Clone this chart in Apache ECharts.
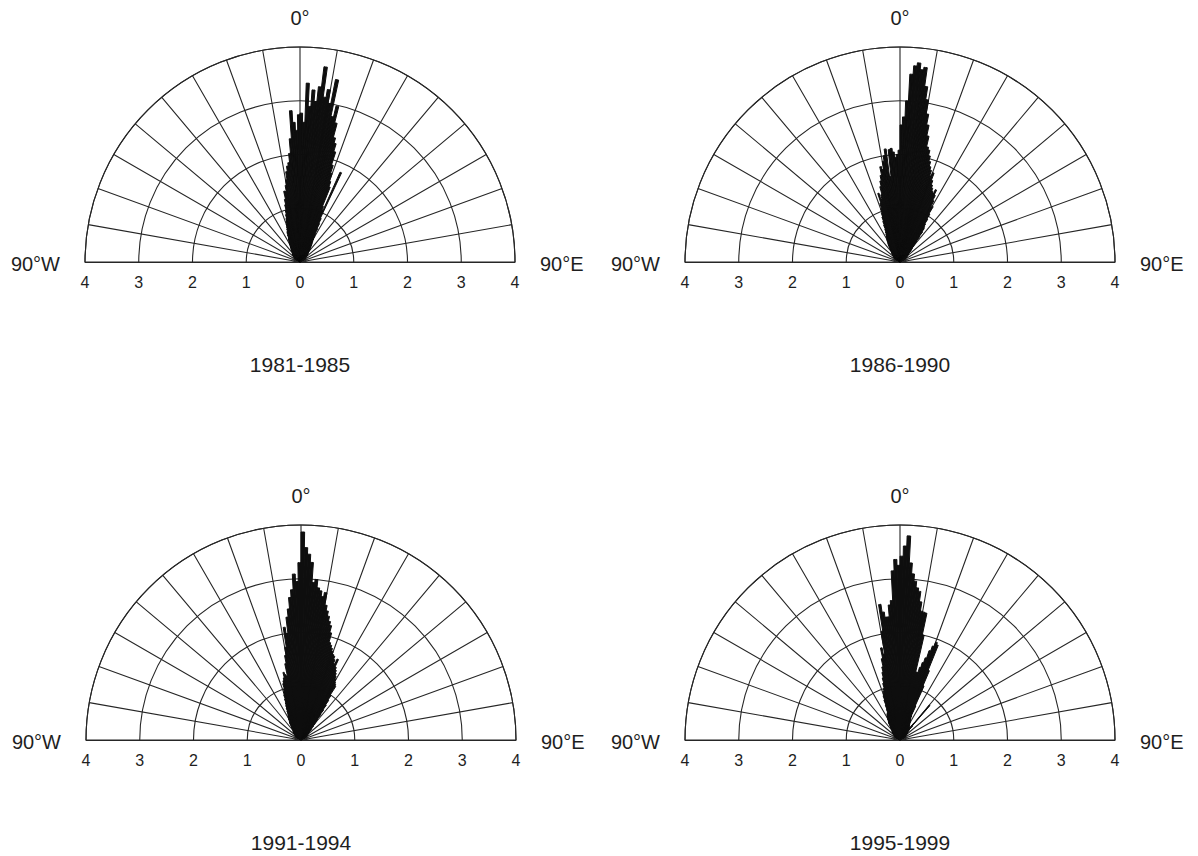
<!DOCTYPE html>
<html>
<head>
<meta charset="utf-8">
<script src="https://cdn.jsdelivr.net/npm/echarts@6/dist/echarts.min.js"></script>
<style>
  html, body { margin: 0; padding: 0; background: #ffffff; }
  #chart { width: 1198px; height: 856px; }
</style>
</head>
<body>
<div id="chart"></div>
<script>
// Half-rose diagrams of direction frequency, one panel per period.
const periods = ['1981-1985', '1986-1990', '1991-1994', '1995-1999'];

// Each list holds one value per 1° direction bin, starting at firstBin (bin left edge, degrees).
const firstBin = -60;
const rose1981 = [
  0.10, 0.10, 0.10, 0.10, 0.12, 0.12, 0.12, 0.15, 0.15, 0.15,
  0.15, 0.18, 0.18, 0.18, 0.20, 0.20, 0.20, 0.20, 0.22, 0.22,
  0.22, 0.22, 0.25, 0.25, 0.28, 0.30, 0.30, 0.33, 0.35, 0.38,
  0.40, 0.42, 0.45, 0.48, 0.50, 0.55, 0.60, 0.62, 0.66, 0.70,
  0.75, 0.80, 0.85, 0.92, 1.00, 1.10, 1.20, 1.35, 1.34, 1.45,
  1.55, 1.70, 1.80, 1.86, 2.03, 2.30, 2.82, 2.60, 2.45, 2.74,
  2.77, 2.60, 3.33, 2.90, 3.21, 3.00, 3.28, 3.66, 3.10, 3.25,
  3.00, 3.46, 2.77, 2.98, 2.67, 2.40, 2.30, 2.15, 1.90, 1.75,
  1.60, 1.50, 1.12, 1.05, 1.83, 0.90, 0.80, 0.70, 0.60, 0.55,
  0.50, 0.45, 0.42, 0.40, 0.38, 0.35, 0.33, 0.30, 0.30, 0.28,
  0.25, 0.25, 0.22, 0.22, 0.20, 0.20, 0.20, 0.18, 0.18, 0.18,
  0.15, 0.15, 0.15, 0.12, 0.12, 0.12, 0.10, 0.10, 0.10, 0.10
];
const rose1986 = [
  0.10, 0.10, 0.10, 0.12, 0.12, 0.12, 0.15, 0.15, 0.15, 0.15,
  0.18, 0.18, 0.18, 0.20, 0.20, 0.20, 0.22, 0.22, 0.22, 0.25,
  0.25, 0.28, 0.30, 0.32, 0.35, 0.38, 0.40, 0.42, 0.45, 0.48,
  0.50, 0.52, 0.55, 0.58, 0.62, 0.67, 0.75, 0.82, 0.90, 0.97,
  1.05, 1.15, 1.34, 1.22, 1.30, 1.45, 1.55, 1.65, 1.81, 1.75,
  1.90, 2.00, 2.12, 1.60, 2.10, 2.12, 2.05, 1.95, 2.00, 2.08,
  2.55, 2.70, 3.00, 3.50, 3.66, 3.72, 3.60, 3.65, 3.30, 3.06,
  2.80, 2.60, 2.40, 2.20, 2.15, 2.05, 1.95, 1.86, 1.80, 1.70,
  1.77, 1.63, 1.55, 1.50, 1.45, 1.42, 1.50, 1.40, 1.30, 1.18,
  1.20, 1.05, 0.95, 0.85, 0.80, 0.77, 0.70, 0.60, 0.50, 0.45,
  0.40, 0.35, 0.32, 0.30, 0.28, 0.25, 0.22, 0.22, 0.20, 0.20,
  0.18, 0.18, 0.15, 0.15, 0.15, 0.12, 0.12, 0.10, 0.10, 0.10
];
const rose1991 = [
  0.10, 0.10, 0.10, 0.10, 0.12, 0.12, 0.12, 0.15, 0.15, 0.15,
  0.15, 0.18, 0.18, 0.18, 0.20, 0.20, 0.20, 0.22, 0.22, 0.22,
  0.25, 0.25, 0.28, 0.30, 0.32, 0.35, 0.38, 0.40, 0.42, 0.45,
  0.48, 0.50, 0.52, 0.55, 0.60, 0.65, 0.70, 0.75, 0.82, 0.90,
  0.95, 1.00, 1.10, 1.15, 1.20, 1.30, 1.25, 1.22, 1.45, 1.60,
  1.75, 2.12, 2.00, 2.30, 2.45, 2.66, 2.80, 3.09, 2.95, 3.30,
  3.87, 3.58, 3.46, 3.31, 2.94, 3.00, 2.85, 2.80, 2.70, 2.78,
  2.55, 2.45, 2.36, 2.27, 2.20, 2.07, 1.89, 1.85, 1.80, 1.75,
  1.70, 1.68, 1.62, 1.55, 1.65, 1.50, 1.45, 1.40, 1.35, 1.30,
  1.25, 1.22, 1.19, 1.00, 0.90, 0.80, 0.70, 0.60, 0.50, 0.45,
  0.40, 0.35, 0.30, 0.28, 0.25, 0.22, 0.22, 0.20, 0.20, 0.18,
  0.18, 0.15, 0.15, 0.15, 0.12, 0.12, 0.12, 0.10, 0.10, 0.10
];
const rose1995 = [
  0.10, 0.10, 0.10, 0.10, 0.12, 0.12, 0.12, 0.15, 0.15, 0.15,
  0.15, 0.18, 0.18, 0.18, 0.20, 0.20, 0.20, 0.22, 0.22, 0.22,
  0.25, 0.25, 0.28, 0.30, 0.32, 0.35, 0.38, 0.40, 0.42, 0.45,
  0.48, 0.50, 0.52, 0.54, 0.55, 0.56, 0.62, 0.70, 0.80, 0.88,
  0.92, 0.96, 1.00, 1.10, 1.20, 1.30, 1.40, 1.55, 1.75, 1.62,
  2.05, 2.55, 2.40, 2.30, 2.30, 2.52, 2.60, 3.15, 3.36, 3.25,
  3.42, 3.61, 3.80, 3.30, 3.10, 2.97, 2.85, 2.79, 2.60, 2.43,
  2.42, 2.41, 2.00, 1.30, 1.30, 1.40, 1.50, 1.60, 1.75, 1.85,
  1.94, 1.90, 1.40, 1.10, 0.70, 0.50, 0.45, 0.42, 0.40, 0.38,
  0.36, 0.35, 0.33, 0.32, 0.30, 0.30, 0.28, 0.28, 0.30, 0.40,
  0.85, 0.35, 0.25, 0.22, 0.20, 0.20, 0.20, 0.18, 0.18, 0.18,
  0.15, 0.15, 0.15, 0.12, 0.12, 0.12, 0.10, 0.10, 0.10, 0.10
];
const roses = [rose1981, rose1986, rose1991, rose1995];

// Radial scale and its tick labels (read both ways from the centre).
const radiusMax = 4;
const radiusTickLabels = ['4', '3', '2', '1', '0', '1', '2', '3', '4'];
const northLabel = '0°';
const westLabel = '90°W';
const eastLabel = '90°E';

// Panel layout (pixels).
const R = 215;
const centers = [[300, 262], [900, 262], [301, 740], [900, 740]];

// All 180 one-degree bins from 90°W to 90°E.
const binAngles = [];
for (let a = -90; a < 90; a++) binAngles.push(a);

function fullBins(list) {
  return binAngles.map(a => {
    const i = a - firstBin;
    return (i >= 0 && i < list.length) ? list[i] : 0;
  });
}

const lineColor = '#262626';
const lineWidth = 1.1;
const barColor = '#0e0e0e';
const textColor = '#1e1e1e';
const fontFamily = '"Liberation Sans", Arial, Helvetica, sans-serif';

const polar = [], angleAxis = [], radiusAxis = [], grid = [], xAxis = [], yAxis = [], series = [], graphic = [];

centers.forEach((c, p) => {
  const [cx, cy] = c;
  // grid polar: outer arc, rings and 10° spokes
  polar.push({ center: [cx, cy], radius: R });
  angleAxis.push({
    polarIndex: 2 * p, type: 'value', min: -90, max: 90, interval: 10,
    startAngle: 180, endAngle: 0, clockwise: true,
    axisLine: { show: true, lineStyle: { color: lineColor, width: lineWidth } },
    axisTick: { show: false }, axisLabel: { show: false },
    splitLine: { show: true, lineStyle: { color: lineColor, width: lineWidth } }
  });
  radiusAxis.push({
    polarIndex: 2 * p, type: 'value', min: 0, max: radiusMax, interval: 1,
    axisLine: { show: false }, axisTick: { show: false }, axisLabel: { show: false },
    splitLine: { show: true, lineStyle: { color: lineColor, width: lineWidth } }
  });
  // bar polar: one category per degree bin
  polar.push({ center: [cx, cy], radius: R });
  angleAxis.push({
    polarIndex: 2 * p + 1, type: 'category', data: binAngles,
    startAngle: 180, endAngle: 0, clockwise: true, boundaryGap: true,
    axisLine: { show: false }, axisTick: { show: false }, axisLabel: { show: false },
    splitLine: { show: false }
  });
  radiusAxis.push({
    polarIndex: 2 * p + 1, type: 'value', min: 0, max: radiusMax,
    axisLine: { show: false }, axisTick: { show: false }, axisLabel: { show: false },
    splitLine: { show: false }
  });
  series.push({
    name: periods[p], type: 'bar', coordinateSystem: 'polar', polarIndex: 2 * p + 1,
    data: fullBins(roses[p]), barCategoryGap: '0%', barGap: '0%',
    itemStyle: { color: barColor, borderColor: barColor, borderWidth: 1 },
    silent: true, animation: false, z: 5
  });
  // baseline with distance labels on both sides of the centre
  grid.push({ left: cx - R, top: cy - R, width: 2 * R, height: R, containLabel: false });
  xAxis.push({
    gridIndex: p, type: 'value', min: -radiusMax, max: radiusMax, interval: 1,
    axisLine: { show: true, onZero: false, lineStyle: { color: lineColor, width: lineWidth } },
    axisTick: { show: false }, splitLine: { show: false },
    axisLabel: {
      margin: 12, fontSize: 16, color: textColor, fontFamily,
      formatter: v => radiusTickLabels[Math.round(v) + radiusMax]
    }
  });
  yAxis.push({ gridIndex: p, type: 'value', min: 0, max: radiusMax, show: false });

  const base = { fill: textColor, fontFamily, align: 'center', verticalAlign: 'middle',
                 textAlign: 'center', textVerticalAlign: 'middle' };
  graphic.push({ type: 'text', x: cx, y: cy - 244,
    style: Object.assign({}, base, { text: northLabel, fontSize: 20 }) });
  graphic.push({ type: 'text', x: cx - R - 25, y: cy + 2,
    style: Object.assign({}, base, { text: westLabel, fontSize: 20, align: 'right', textAlign: 'right' }) });
  graphic.push({ type: 'text', x: cx + R + 25, y: cy + 2,
    style: Object.assign({}, base, { text: eastLabel, fontSize: 20, align: 'left', textAlign: 'left' }) });
  graphic.push({ type: 'text', x: cx, y: cy + 102,
    style: Object.assign({}, base, { text: periods[p], fontSize: 21 }) });
});

const chart = echarts.init(document.getElementById('chart'), null, { renderer: 'svg' });
chart.setOption({
  backgroundColor: '#ffffff',
  animation: false,
  polar, angleAxis, radiusAxis, grid, xAxis, yAxis, series, graphic
});
</script>
</body>
</html>
